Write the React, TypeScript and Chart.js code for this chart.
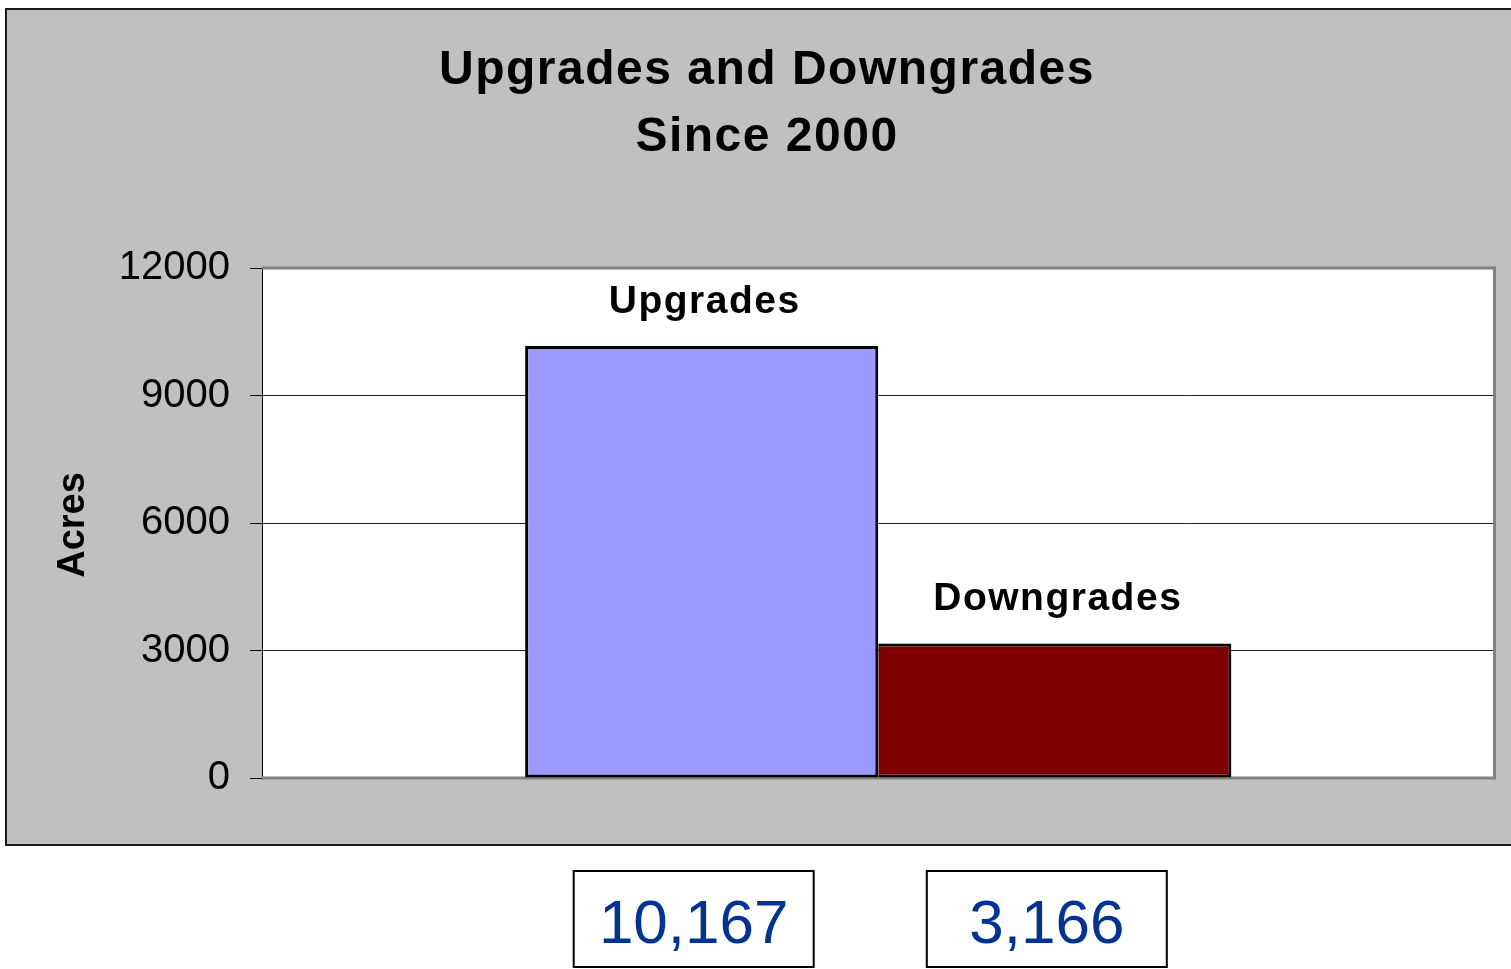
import React, { useEffect, useRef } from "react";
import { Chart, registerables } from "chart.js";

Chart.register(...registerables);

const titleLines = ["Upgrades and Downgrades", "Since 2000"];
const seriesNames = ["Upgrades", "Downgrades"];
const seriesValues = [10167, 3166];
const seriesColors = ["#9999FF", "#800000"];
const categories = [""];
const yTicks = [0, 3000, 6000, 9000, 12000];
const yAxisTitle = "Acres";

const FONT = "'Liberation Sans', Arial, sans-serif";

const decorPlugin = {
  id: "decor",
  beforeDraw(chart: any) {
    const { ctx, chartArea: ca, width, height } = chart;
    ctx.save();
    ctx.fillStyle = "#ffffff";
    ctx.fillRect(0, 0, width, height);
    // gray chart frame
    ctx.fillStyle = "#c0c0c0";
    ctx.fillRect(6, 9, width + 10, 836);
    ctx.strokeStyle = "#1a1a1a";
    ctx.lineWidth = 2;
    ctx.strokeRect(6, 9, width + 10, 836);
    // plot background
    ctx.fillStyle = "#ffffff";
    ctx.fillRect(ca.left, ca.top, ca.right - ca.left, ca.bottom - ca.top);
    ctx.restore();
  },
  beforeDatasetsDraw(chart: any) {
    const { ctx, chartArea: ca } = chart;
    ctx.save();
    ctx.strokeStyle = "#808080";
    ctx.lineWidth = 3;
    ctx.beginPath();
    ctx.moveTo(ca.left, ca.top);
    ctx.lineTo(ca.right, ca.top);
    ctx.lineTo(ca.right, ca.bottom);
    ctx.lineTo(ca.left, ca.bottom);
    ctx.stroke();
    ctx.restore();
  },
  afterDatasetsDraw(chart: any) {
    const { ctx } = chart;
    ctx.save();
    // title
    ctx.fillStyle = "#000";
    ctx.textAlign = "center";
    ctx.textBaseline = "alphabetic";
    ctx.font = `bold 48px ${FONT}`;
    (ctx as any).letterSpacing = "1.5px";
    ctx.fillText(titleLines[0], 767, 84);
    ctx.fillText(titleLines[1], 767, 151);

    // axis title
    (ctx as any).letterSpacing = "0px";
    ctx.save();
    ctx.translate(74, 525);
    ctx.rotate(-Math.PI / 2);
    ctx.font = `bold 38px ${FONT}`;
    ctx.textBaseline = "middle";
    ctx.fillText(yAxisTitle, 0, 0);
    ctx.restore();

    // series labels and value boxes
    chart.data.datasets.forEach((ds: any, i: number) => {
      const meta = chart.getDatasetMeta(i);
      const bar = meta.data[0];
      if (!bar) return;
      ctx.font = `bold 39px ${FONT}`;
      (ctx as any).letterSpacing = "1.5px";
      ctx.fillStyle = "#000";
      ctx.textAlign = "center";
      ctx.textBaseline = "alphabetic";
      ctx.fillText(ds.label, bar.x + 3, bar.y - 33);

      (ctx as any).letterSpacing = "0px";
      const cx = bar.x - 8;
      const bw = 240;
      const bh = 96;
      const top = 871;
      ctx.strokeStyle = "#000";
      ctx.lineWidth = 2;
      ctx.strokeRect(cx - bw / 2, top, bw, bh);
      ctx.font = `62px ${FONT}`;
      ctx.fillStyle = "#003399";
      ctx.fillText(Number(ds.data[0]).toLocaleString("en-US"), cx, top + 72);
    });
    ctx.restore();
  },
};

export default function App() {
  const ref = useRef<HTMLCanvasElement | null>(null);
  useEffect(() => {
    if (!ref.current) return;
    const chart = new Chart(ref.current, {
      type: "bar",
      data: {
        labels: categories,
        datasets: seriesNames.map((name, i) => ({
          label: name,
          data: [seriesValues[i]],
          backgroundColor: seriesColors[i],
          borderColor: "#000000",
          borderWidth: 3,
          borderSkipped: i === 0 ? false : "left",
          categoryPercentage: 0.573,
          barPercentage: 1,
        })),
      },
      options: {
        responsive: false,
        animation: false,
        layout: { padding: { left: 0, top: 268, right: 16.5, bottom: 191 } },
        plugins: {
          legend: { display: false },
          title: { display: false },
          tooltip: { enabled: false },
        },
        scales: {
          x: { display: false, offset: true },
          y: {
            min: 0,
            max: 12000,
            afterFit: (scale: any) => {
              scale.width = 262;
            },
            afterBuildTicks: (scale: any) => {
              scale.ticks = yTicks.map((v) => ({ value: v }));
            },
            ticks: {
              color: "#000",
              font: { family: FONT, size: 40 },
              padding: 20,
              callback: (v: any) => String(v),
            },
            grid: {
              color: (c: any) =>
                c.tick && (c.tick.value === 0 || c.tick.value === 12000)
                  ? "rgba(0,0,0,0)"
                  : "#222222",
              lineWidth: 1,
              tickColor: "#000000",
              tickLength: 12,
              drawTicks: true,
            },
            border: { display: true, color: "#000000", width: 1 },
          },
        },
      },
      plugins: [decorPlugin],
    });
    return () => chart.destroy();
  }, []);
  return (
    <canvas
      ref={ref}
      width={1511}
      height={969}
      style={{ position: "absolute", left: 0, top: 0, width: 1511, height: 969 }}
    />
  );
}
